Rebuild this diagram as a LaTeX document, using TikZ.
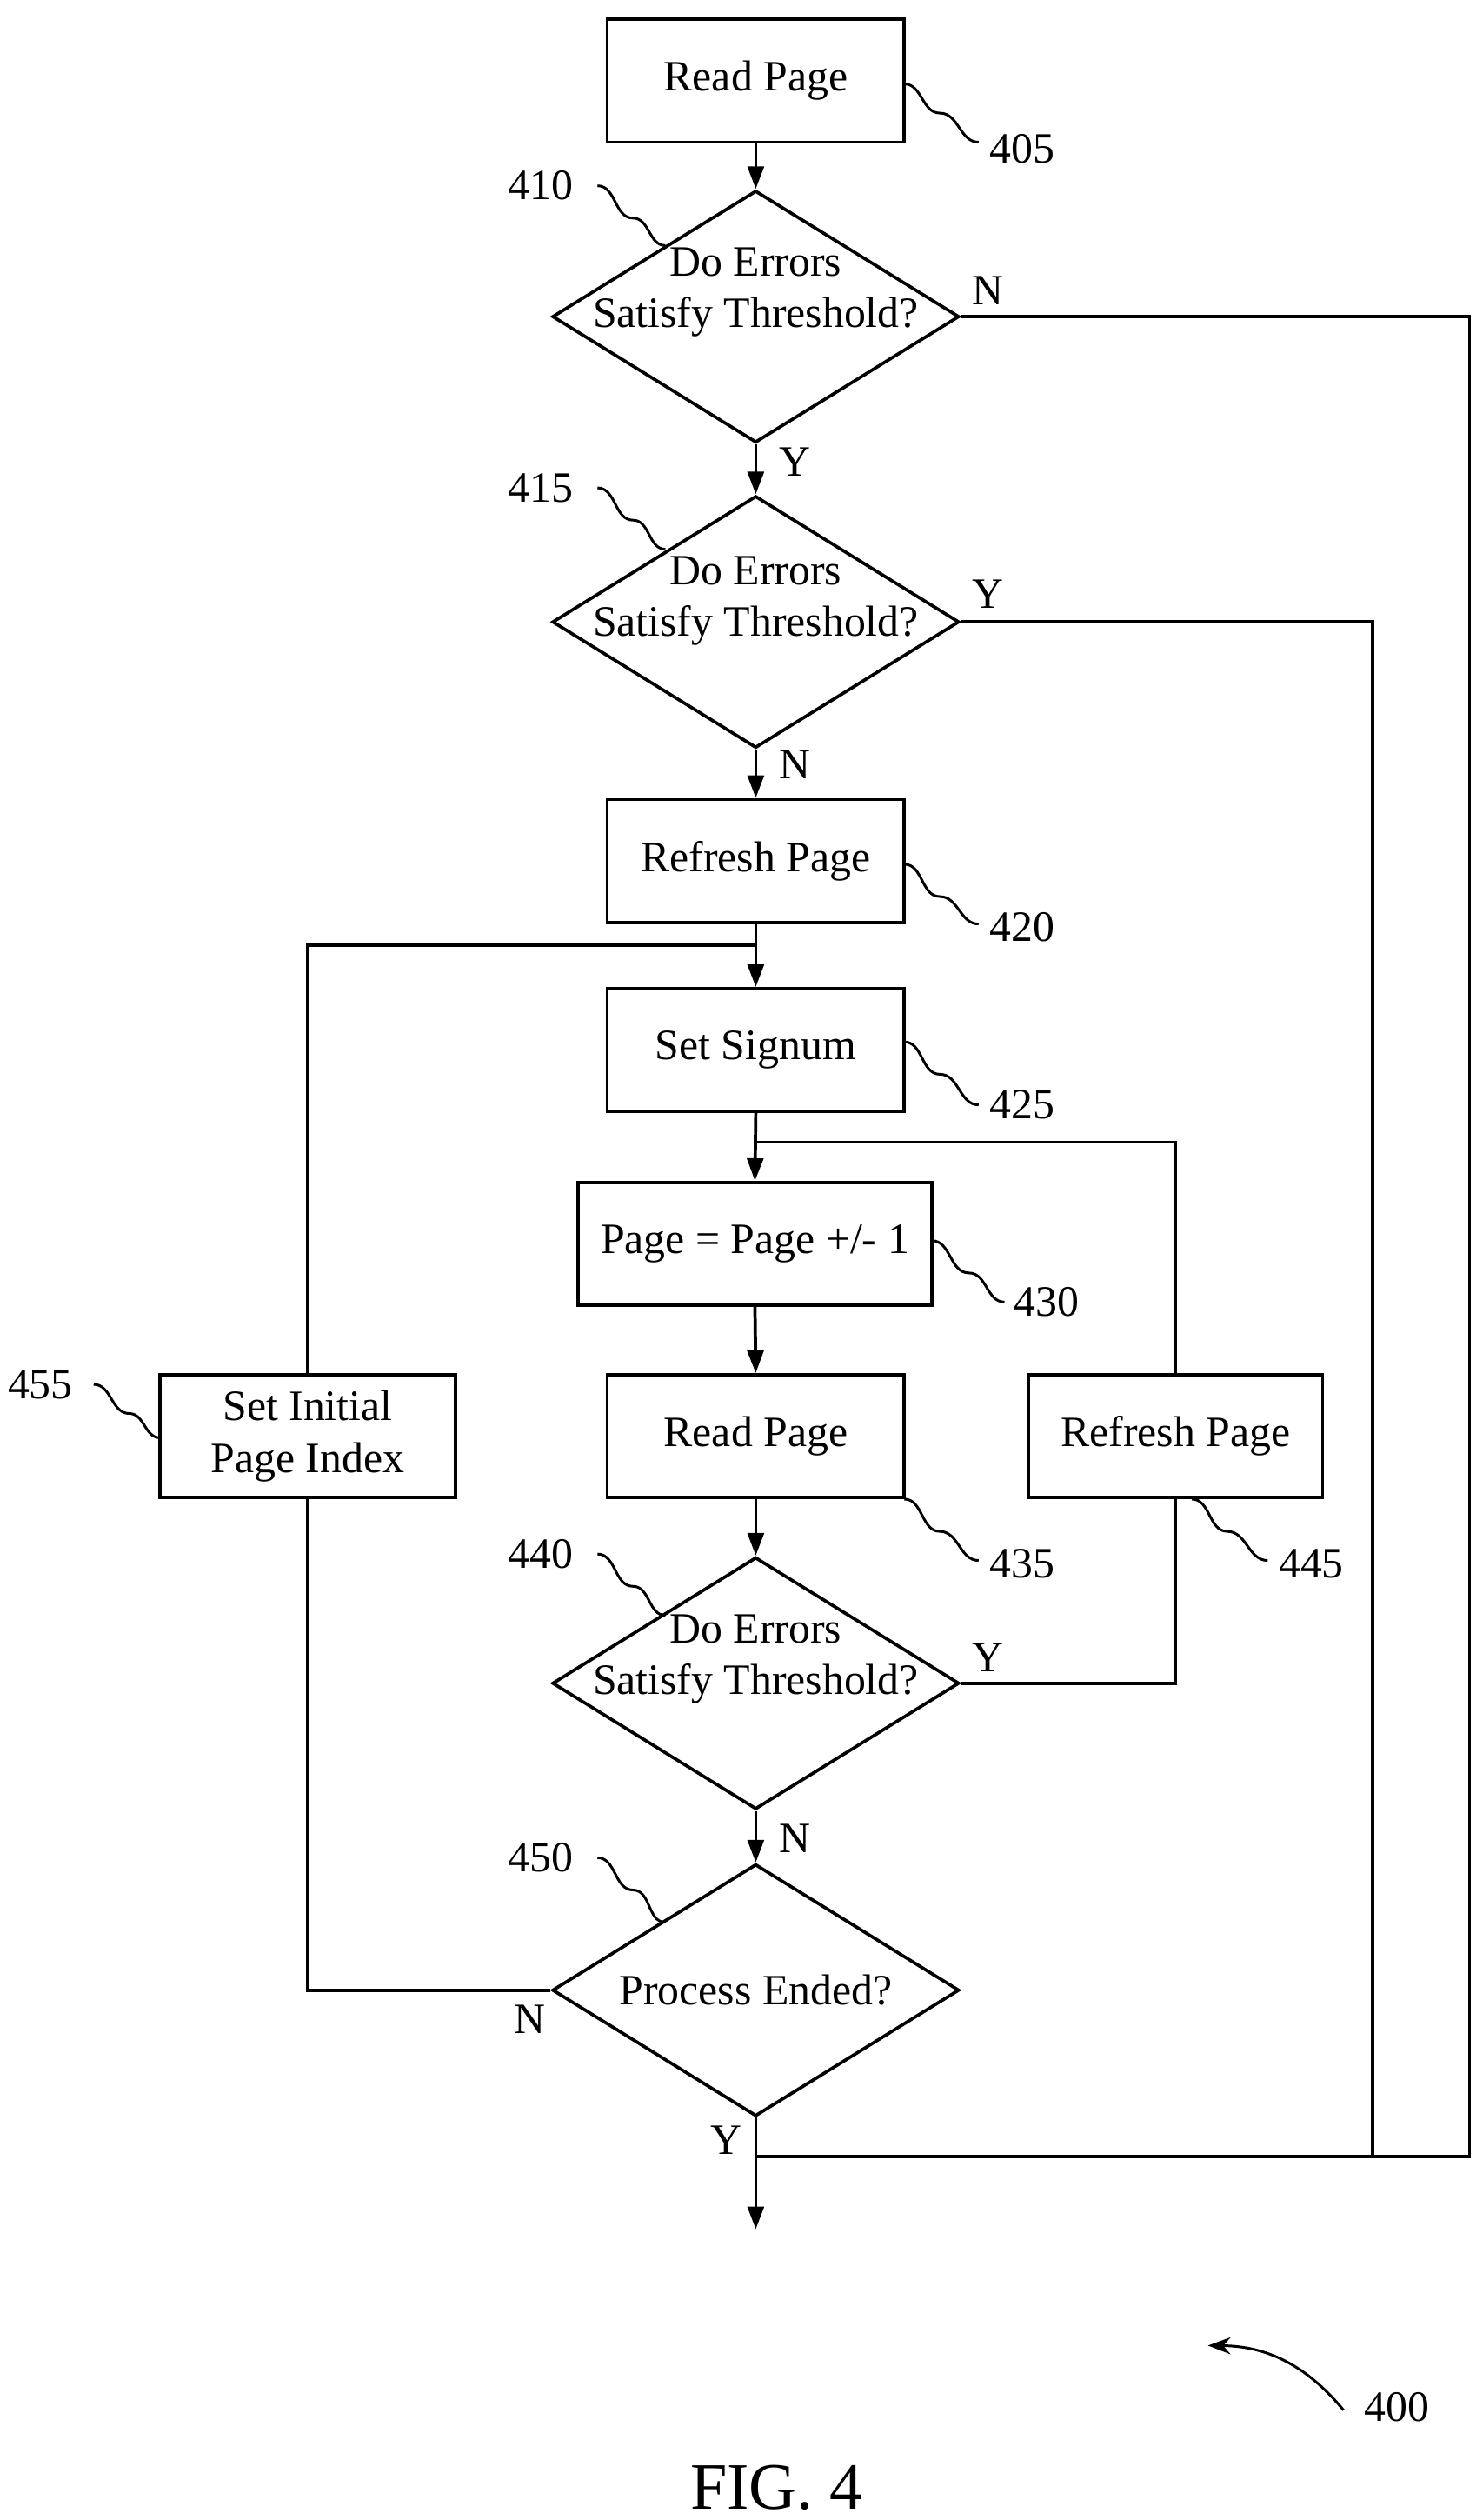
\documentclass[tikz,border=0pt]{standalone}
\usepackage{fontspec}
\setmainfont{Liberation Serif}
\usetikzlibrary{shapes.geometric,arrows.meta}
\begin{document}
\begin{tikzpicture}[x=0.5pt,y=-0.5pt,line width=1pt,
  box/.style={draw,minimum width=92pt,minimum height=38pt,inner sep=0pt,font=\fontsize{13.4}{16}\selectfont},
  dia/.style={draw,diamond,minimum width=126pt,minimum height=78pt,inner sep=0pt},
  txt/.style={font=\fontsize{13.4}{16}\selectfont,align=center},
  lbl/.style={font=\fontsize{13.4}{16}\selectfont},
  arr/.style={-{Triangle[length=7pt,width=5pt]}},
  sq/.style={line width=0.8pt}]
\useasboundingbox (0,0) rectangle (918,1560);
% nodes
\node[box] (b405) at (468,50) {Read Page};
\node[dia] (d410) at (468,196) {};
\node[txt] (t410) at (468,181) {Do Errors\\Satisfy Threshold?};
\node[dia] (d415) at (468,385) {};
\node[txt] (t415) at (468,372) {Do Errors\\Satisfy Threshold?};
\node[box] (b420) at (468,533) {Refresh Page};
\node[box] (b425) at (468,650) {Set Signum};
\node[box,minimum width=109.5pt] (b430) at (467.5,770) {Page = Page +/- 1};
\node[box] (b435) at (468,889) {Read Page};
\node[box,minimum width=91pt] (b445) at (728,889) {Refresh Page};
\node[box,minimum width=91.5pt,txt] (b455) at (190.5,889) {Set Initial\\Page Index};
\node[dia] (d440) at (468,1042) {};
\node[txt] (t440) at (468,1027) {Do Errors\\Satisfy Threshold?};
\node[dia] (d450) at (468,1232) {};
\node[txt] (t450) at (468,1232) {Process Ended?};
\coordinate (j585) at (468,585);
\coordinate (j707) at (468,707);
\coordinate (j1335) at (468,1335);
\coordinate (end) at (468,1380);
% connectors
\draw[arr] (b405.south) -- (d410.north);
\draw[arr] (d410.south) -- (d415.north);
\draw[arr] (d415.south) -- (b420.north);
\draw[arr] (b420.south) -- (b425.north);
\draw (b455.north) |- (j585);
\draw[arr] (b425.south) -- (b430.north);
\draw (b445.north) |- (j707);
\draw[arr] (b430.south) -- (b435.north);
\draw[arr] (b435.south) -- (d440.north);
\draw (d440.east) -| (b445.south);
\draw[arr] (d440.south) -- (d450.north);
\draw (d450.west) -| (b455.south);
\draw[arr] (d450.south) -- (end);
\draw (d410.east) -- (910,196) |- (j1335);
\draw (d415.east) -- (850,385) -- (850,1335);
% branch labels
\node[lbl] (n1) at (612,180) {N};
\node[lbl] (y1) at (492,286) {Y};
\node[lbl] (y2) at (612,368) {Y};
\node[lbl] (n2) at (492,473) {N};
\node[lbl] (y3) at (612,1026) {Y};
\node[lbl] (n3) at (492,1138) {N};
\node[lbl] (n4) at (328,1250) {N};
\node[lbl] (y4) at (450,1325) {Y};
% reference numerals
\node[lbl] (r405) at (633,92) {405};
\node[lbl] (r410) at (335,115) {410};
\node[lbl] (r415) at (335,302) {415};
\node[lbl] (r420) at (633,574) {420};
\node[lbl] (r425) at (633,684) {425};
\node[lbl] (r430) at (648,806) {430};
\node[lbl] (r435) at (633,968) {435};
\node[lbl] (r440) at (335,962) {440};
\node[lbl] (r445) at (812,968) {445};
\node[lbl] (r450) at (335,1150) {450};
\node[lbl] (r455) at (25,857) {455};
\node[lbl] (r400) at (865,1490) {400};
\node[font=\fontsize{20.5}{24}\selectfont] (fig) at (481,1540) {FIG. 4};
% squiggles
\draw[sq] (560,52) to[out=0,in=180] (582,70) to[out=0,in=180] (606,88);
\draw[sq] (370,115) to[out=0,in=180] (392,135) to[out=0,in=180] (412,152);
\draw[sq] (370,302) to[out=0,in=180] (392,322) to[out=0,in=180] (412,340);
\draw[sq] (560,535) to[out=0,in=180] (582,555) to[out=0,in=180] (606,572);
\draw[sq] (560,645) to[out=0,in=180] (582,665) to[out=0,in=180] (606,684);
\draw[sq] (577,768) to[out=0,in=180] (600,788) to[out=0,in=180] (622,806);
\draw[sq] (560,928) to[out=0,in=180] (582,948) to[out=0,in=180] (606,966);
\draw[sq] (370,962) to[out=0,in=180] (392,982) to[out=0,in=180] (412,1000);
\draw[sq] (738,928) to[out=0,in=180] (760,948) to[out=0,in=180] (785,966);
\draw[sq] (370,1150) to[out=0,in=180] (392,1170) to[out=0,in=180] (412,1190);
\draw[sq] (58,857) to[out=0,in=180] (80,875) to[out=0,in=180] (99,890);
\draw[sq,-{Stealth[length=7pt]}] (832,1492) to[bend right=25] (748,1452);
\end{tikzpicture}
\end{document}
